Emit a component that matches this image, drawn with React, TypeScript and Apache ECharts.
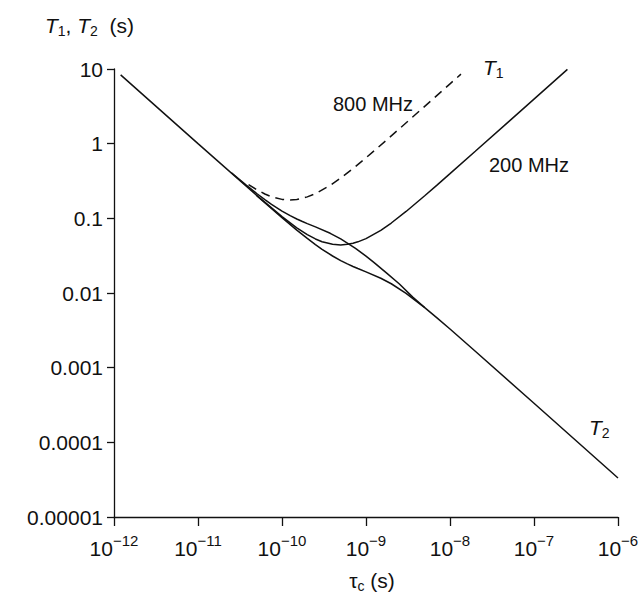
import React, { useEffect, useRef } from "react";
import * as echarts from "echarts";

// tick labels
const yTickLabels = ["0.00001", "0.0001", "0.001", "0.01", "0.1", "1", "10"]; // exponents -5 .. 1

// T1 at 200 MHz (solid)
const t1_200_tau = [1.2e-12, 1e-11, 5e-11, 1e-10, 1.5e-10, 2e-10, 2.5e-10, 3e-10, 4e-10, 5e-10, 6e-10, 7e-10, 8e-10, 1e-9, 1.5e-9, 2e-9, 3e-9, 5e-9, 7e-9, 1e-8, 2e-8, 5e-8, 1e-7, 2.5e-7];
const t1_200_val = [8.333, 1.0, 0.2027, 0.1053, 0.0746, 0.06048, 0.05294, 0.04865, 0.04484, 0.04409, 0.04482, 0.04637, 0.04843, 0.05351, 0.06907, 0.08651, 0.1236, 0.2005, 0.2786, 0.3963, 0.7903, 1.975, 3.948, 9.87];

// T2 at 200 MHz (solid)
const t2_200_tau = [5e-11, 1e-10, 1.5e-10, 2e-10, 2.5e-10, 3e-10, 4e-10, 5e-10, 6e-10, 7e-10, 8e-10, 1e-9, 1.5e-9, 2e-9, 3e-9, 5e-9, 7e-9, 1e-8, 2e-8, 1e-7, 1e-6];
const t2_200_val = [0.201, 0.102, 0.06959, 0.05377, 0.04452, 0.03852, 0.0313, 0.02717, 0.02452, 0.02265, 0.02125, 0.01919, 0.01576, 0.0133, 0.00991, 0.006377, 0.004653, 0.003295, 0.001662, 0.0003332, 0.00003333];

// T2 at 800 MHz (solid)
const t2_800_tau = [2.5e-11, 3.75e-11, 5e-11, 6.25e-11, 7.5e-11, 1e-10, 1.25e-10, 1.5e-10, 1.75e-10, 2e-10, 2.5e-10, 3.75e-10, 5e-10, 7.5e-10, 1e-9, 1.25e-9, 1.75e-9, 2.5e-9, 3.6e-9, 5e-9];
const t2_800_val = [0.408, 0.2784, 0.2151, 0.1781, 0.1541, 0.1252, 0.1087, 0.09806, 0.0906, 0.08498, 0.07674, 0.06305, 0.0532, 0.03964, 0.03115, 0.02551, 0.01861, 0.01318, 0.0088, 0.0064];

// T1 at 800 MHz (dashed)
const t1_800_tau = [4e-11, 5e-11, 6.25e-11, 7.5e-11, 1e-10, 1.25e-10, 1.5e-10, 1.75e-10, 2e-10, 2.5e-10, 3.75e-10, 5e-10, 7.5e-10, 1e-9, 1.25e-9, 1.75e-9, 2.5e-9, 5e-9, 1e-8, 1.35e-8];
const t1_800_val = [0.2838, 0.2419, 0.2118, 0.1946, 0.1794, 0.1764, 0.1793, 0.1855, 0.1937, 0.214, 0.2763, 0.346, 0.4942, 0.6472, 0.802, 1.114, 1.585, 3.161, 6.319, 8.53];

const pairs = (xs: number[], ys: number[]) => xs.map((x, i) => [x, ys[i]]);

const FONT = "'Liberation Sans', Arial, Helvetica, sans-serif";
const INK = "#111";

const italicRich = (size: number, sub: number) => ({
  t: { fontFamily: FONT, fontSize: size, fontStyle: "italic", lineHeight: size + 4, fill: INK },
  s: { fontFamily: FONT, fontSize: sub, lineHeight: sub, verticalAlign: "bottom", fill: INK },
  n: { fontFamily: FONT, fontSize: size, lineHeight: size + 4, fill: INK },
});

export default function App() {
  const ref = useRef<HTMLDivElement>(null);

  useEffect(() => {
    if (!ref.current) return;
    const chart = echarts.init(ref.current, null, { renderer: "svg" });
    const lineBase = { type: "line" as const, showSymbol: false, symbol: "none", smooth: false, silent: true };
    chart.setOption({
      animation: false,
      backgroundColor: "#fff",
      grid: { left: 114, right: 25, top: 69, bottom: 81 },
      xAxis: {
        type: "log",
        logBase: 10,
        min: 1e-12,
        max: 1e-6,
        splitLine: { show: false },
        minorTick: { show: false },
        axisLine: { show: true, onZero: false, lineStyle: { color: INK, width: 1.3 } },
        axisTick: { show: true, inside: false, length: 9, lineStyle: { color: INK, width: 1.3 } },
        axisLabel: {
          margin: 16,
          color: INK,
          formatter: (v: number) => {
            const e = Math.round(Math.log10(v));
            return `{b|10}{s|\u2212${-e}}`;
          },
          rich: {
            b: { fontFamily: FONT, fontSize: 21, lineHeight: 30, color: INK },
            s: { fontFamily: FONT, fontSize: 15, lineHeight: 14, verticalAlign: "top", color: INK },
          },
        },
      },
      yAxis: {
        type: "log",
        logBase: 10,
        min: 1e-5,
        max: 10,
        splitLine: { show: false },
        minorTick: { show: false },
        axisLine: { show: true, onZero: false, lineStyle: { color: INK, width: 1.3 } },
        axisTick: { show: true, inside: false, length: 7, lineStyle: { color: INK, width: 1.3 } },
        axisLabel: {
          margin: 11,
          color: INK,
          fontFamily: FONT,
          fontSize: 21,
          formatter: (v: number) => {
            const e = Math.round(Math.log10(v));
            return yTickLabels[e + 5] ?? "";
          },
        },
      },
      series: [
        { ...lineBase, name: "T1 200 MHz", data: pairs(t1_200_tau, t1_200_val), lineStyle: { color: INK, width: 1.5 } },
        { ...lineBase, name: "T2 200 MHz", data: pairs(t2_200_tau, t2_200_val), lineStyle: { color: INK, width: 1.5 } },
        { ...lineBase, name: "T2 800 MHz", data: pairs(t2_800_tau, t2_800_val), lineStyle: { color: INK, width: 1.5 } },
        { ...lineBase, name: "T1 800 MHz", data: pairs(t1_800_tau, t1_800_val), lineStyle: { color: INK, width: 1.5, type: [9, 6] } },
      ],
      graphic: [
        {
          type: "text",
          x: 45,
          y: 13,
          style: { text: "{t|T}{s|1}{n|, }{t|T}{s|2}{n|  (s)}", fill: INK, rich: italicRich(21, 14) },
        },
        {
          type: "text",
          x: 413,
          y: 104,
          style: { text: "800 MHz", fill: INK, font: `20px ${FONT}`, align: "right", verticalAlign: "middle" },
        },
        {
          type: "text",
          x: 483,
          y: 55,
          style: { text: "{t|T}{s|1}", fill: INK, rich: italicRich(21, 14) },
        },
        {
          type: "text",
          x: 489,
          y: 165,
          style: { text: "200 MHz", fill: INK, font: `20px ${FONT}`, align: "left", verticalAlign: "middle" },
        },
        {
          type: "text",
          x: 589,
          y: 415,
          style: { text: "{t|T}{s|2}", fill: INK, rich: italicRich(21, 14) },
        },
        {
          type: "text",
          x: 372,
          y: 580,
          style: {
            text: "{g|\u03c4}{s|c}{n| (s)}",
            fill: INK,
            align: "center",
            verticalAlign: "middle",
            rich: {
              g: { fontFamily: FONT, fontSize: 21, lineHeight: 26, fill: INK },
              s: { fontFamily: FONT, fontSize: 14, lineHeight: 14, verticalAlign: "bottom", fill: INK },
              n: { fontFamily: FONT, fontSize: 21, lineHeight: 26, fill: INK },
            },
          },
        },
      ],
    });
    return () => chart.dispose();
  }, []);

  return (
    <div
      ref={ref}
      style={{ position: "absolute", left: 0, top: 0, width: 643, height: 598, background: "#fff" }}
    />
  );
}
